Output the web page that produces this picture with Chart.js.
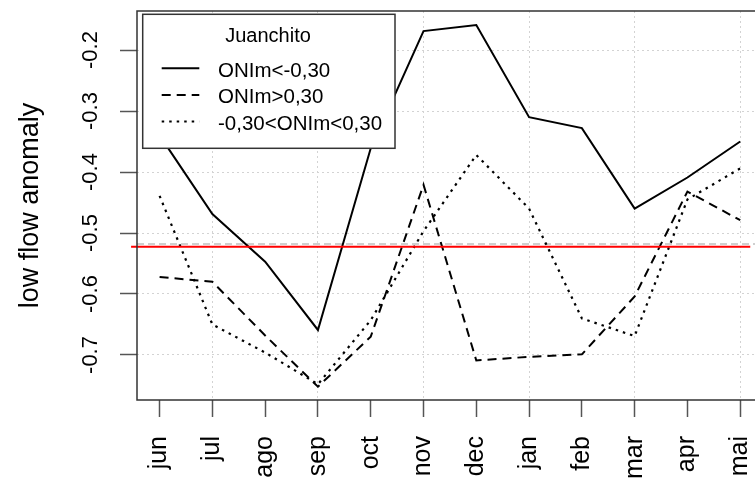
<!DOCTYPE html>
<html lang="es">
<head>
    <meta charset="UTF-8">
    <title>Juanchito - low flow anomaly</title>
    <script src="https://cdn.jsdelivr.net/npm/chart.js"></script>
    <style>
        html, body { margin: 0; padding: 0; background: #fff; overflow: hidden; }
    </style>
</head>
<body>
    <canvas id="lowFlowChart" width="755" height="478"></canvas>

    <script>
        // meses del año hidrológico (jun -> mai)
        const months = ['jun', 'jul', 'ago', 'sep', 'oct', 'nov', 'dec', 'jan', 'feb', 'mar', 'apr', 'mai'];

        // anomalía de caudal mínimo por fase ONI
        const onimNeg     = [-0.340, -0.469, -0.547, -0.659, -0.361, -0.169, -0.159, -0.310, -0.328, -0.460, -0.409, -0.350];
        const onimPos     = [-0.572, -0.580, -0.668, -0.752, -0.670, -0.421, -0.709, -0.703, -0.699, -0.604, -0.432, -0.479];
        const onimNeutral = [-0.439, -0.650, -0.696, -0.748, -0.643, -0.497, -0.372, -0.460, -0.640, -0.669, -0.445, -0.394];

        const seriesNames = ['ONIm<-0,30', 'ONIm>0,30', '-0,30<ONIm<0,30'];
        const legendTitle = 'Juanchito';

        const yTicks = [-0.7, -0.6, -0.5, -0.4, -0.3, -0.2];

        // umbral (rojo) y media (gris)
        const redLevel = -0.5225;
        const redSpan = [-0.54, 11.19];
        const greyLevel = -0.518;

        const X_MIN = -0.428, X_MAX = 11.28;
        const Y_MIN = -0.7738, Y_MAX = -0.136;
        const FONT = "'Liberation Sans', Arial, sans-serif";

        const toPoints = values => values.map((v, i) => ({ x: i, y: v }));

        // marco del gráfico (el borde derecho queda fuera del lienzo)
        const framePlugin = {
            id: 'frame',
            afterDatasetsDraw(chart) {
                const { ctx, chartArea: a } = chart;
                ctx.save();
                ctx.strokeStyle = '#333';
                ctx.lineWidth = 1.5;
                ctx.beginPath();
                ctx.moveTo(a.right + 2, a.top);
                ctx.lineTo(a.left, a.top);
                ctx.lineTo(a.left, a.bottom);
                ctx.lineTo(a.right + 2, a.bottom);
                ctx.stroke();
                ctx.restore();
            }
        };

        // leyenda tipo R con recuadro blanco
        const boxLegend = {
            id: 'boxLegend',
            afterDraw(chart) {
                const { ctx } = chart;
                const box = { x: 142.7, y: 14.3, w: 252.3, h: 134 };
                ctx.save();
                ctx.fillStyle = '#fff';
                ctx.fillRect(box.x, box.y, box.w, box.h);
                ctx.strokeStyle = '#333';
                ctx.lineWidth = 1.5;
                ctx.strokeRect(box.x, box.y, box.w, box.h);

                ctx.fillStyle = '#000';
                ctx.textBaseline = 'alphabetic';
                ctx.textAlign = 'center';
                ctx.font = '20px ' + FONT;
                ctx.fillText(legendTitle, 268, 41.5);

                const rows = [
                    { line: 68.3, base: 77.3 },
                    { line: 95, base: 103.3 },
                    { line: 121.5, base: 130 }
                ];
                ctx.textAlign = 'left';
                ctx.font = '20.5px ' + FONT;
                chart.data.datasets.filter(d => d.inLegend).forEach((ds, i) => {
                    const r = rows[i];
                    ctx.strokeStyle = ds.borderColor;
                    ctx.lineWidth = ds.borderWidth;
                    ctx.setLineDash(ds.borderDash || []);
                    ctx.beginPath();
                    ctx.moveTo(161.7, r.line);
                    ctx.lineTo(199.3, r.line);
                    ctx.stroke();
                    ctx.setLineDash([]);
                    ctx.fillText(ds.label, 218, r.base);
                });
                ctx.restore();
            }
        };

        const lineStyle = {
            borderColor: '#000',
            borderWidth: 2,
            pointRadius: 0,
            tension: 0,
            fill: false,
            inLegend: true
        };

        const config = {
            type: 'line',
            data: {
                datasets: [
                    {
                        label: 'umbral',
                        data: [{ x: redSpan[0], y: redLevel }, { x: redSpan[1], y: redLevel }],
                        borderColor: '#ff0000',
                        borderWidth: 2.2,
                        pointRadius: 0,
                        clip: false
                    },
                    { ...lineStyle, label: seriesNames[0], data: toPoints(onimNeg) },
                    { ...lineStyle, label: seriesNames[1], data: toPoints(onimPos), borderDash: [9, 6] },
                    { ...lineStyle, label: seriesNames[2], data: toPoints(onimNeutral), borderWidth: 2.2, borderDash: [2.5, 5] },
                    {
                        label: 'media',
                        data: [{ x: X_MIN, y: greyLevel }, { x: X_MAX, y: greyLevel }],
                        borderColor: '#cfcfcf',
                        borderWidth: 2,
                        borderDash: [7, 4],
                        pointRadius: 0
                    }
                ]
            },
            options: {
                responsive: false,
                animation: false,
                layout: { padding: { top: 11, left: 0, right: 0, bottom: 0 } },
                plugins: { legend: { display: false }, tooltip: { enabled: false } },
                scales: {
                    x: {
                        type: 'linear',
                        min: X_MIN,
                        max: X_MAX,
                        afterBuildTicks: s => { s.ticks = months.map((m, i) => ({ value: i })); },
                        afterFit: s => { s.height = 78; s.paddingLeft = 0; s.paddingRight = 0; },
                        grid: {
                            // grid() de R: solo en los ticks pares
                            color: c => (c.index % 2 === 1 ? '#d3d3d3' : 'rgba(0,0,0,0)'),
                            lineWidth: 1,
                            tickLength: 17,
                            tickColor: '#555',
                            tickWidth: 1.5
                        },
                        border: { display: false, dash: [2, 3] },
                        ticks: {
                            autoSkip: false,
                            minRotation: 90,
                            maxRotation: 90,
                            padding: 19,
                            color: '#000',
                            font: { family: FONT, size: 25 },
                            callback: v => months[v]
                        }
                    },
                    y: {
                        min: Y_MIN,
                        max: Y_MAX,
                        afterBuildTicks: s => { s.ticks = yTicks.map(v => ({ value: v })); },
                        afterFit: s => { s.width = 137; s.paddingTop = 0; s.paddingBottom = 0; },
                        grid: {
                            color: '#d3d3d3',
                            lineWidth: 1,
                            tickLength: 17,
                            tickColor: '#555',
                            tickWidth: 1.5
                        },
                        border: { display: false, dash: [2, 3] },
                        ticks: {
                            minRotation: 90,
                            maxRotation: 90,
                            crossAlign: 'center',
                            padding: 10,
                            color: '#000',
                            font: { family: FONT, size: 22 },
                            callback: v => v.toFixed(1)
                        },
                        title: {
                            display: true,
                            text: 'low flow anomaly',
                            color: '#000',
                            font: { family: FONT, size: 27 },
                            padding: { top: 14, bottom: 0 }
                        }
                    }
                }
            },
            plugins: [framePlugin, boxLegend]
        };

        const lowFlowChart = new Chart(document.getElementById('lowFlowChart'), config);
    </script>
</body>
</html>
